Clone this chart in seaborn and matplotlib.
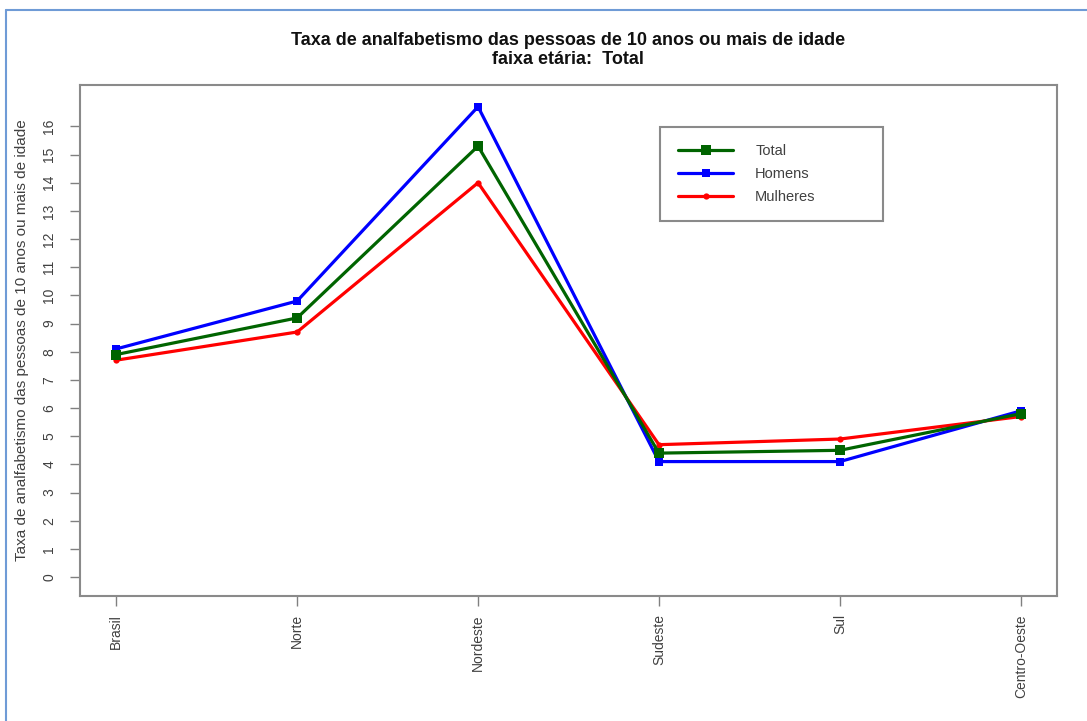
import matplotlib
matplotlib.use("Agg")
import matplotlib.pyplot as plt
from matplotlib.lines import Line2D
import seaborn as sns
import pandas as pd

regioes = ["Brasil", "Norte", "Nordeste", "Sudeste", "Sul", "Centro-Oeste"]
total = [7.9, 9.2, 15.3, 4.4, 4.5, 5.8]
homens = [8.1, 9.8, 16.7, 4.1, 4.1, 5.9]
mulheres = [7.7, 8.7, 14.0, 4.7, 4.9, 5.7]
yticks = list(range(0, 17))

titulo = "Taxa de analfabetismo das pessoas de 10 anos ou mais de idade\nfaixa etária:  Total"
ylabel = "Taxa de analfabetismo das pessoas de 10 anos ou mais de idade"

sns.set_theme(style="white")
plt.rcParams['font.family'] = ['Liberation Sans', 'DejaVu Sans']

df = pd.DataFrame({
    "regiao": regioes * 3,
    "pos": list(range(len(regioes))) * 3,
    "valor": total + homens + mulheres,
    "serie": ["Total"] * 6 + ["Homens"] * 6 + ["Mulheres"] * 6,
})

fig = plt.figure(figsize=(10.87, 7.21), dpi=100)
ax = fig.add_axes([0.0736, 0.1734, 0.8988, 0.7087])

cores = {"Total": "#006400", "Homens": "#0000FF", "Mulheres": "#FF0000"}
marcadores = {"Total": ("s", 7.5), "Homens": ("s", 5.5), "Mulheres": ("o", 4.5)}
for s in ["Homens", "Mulheres", "Total"]:
    sub = df[df["serie"] == s]
    m, ms = marcadores[s]
    sns.lineplot(data=sub, x="pos", y="valor", ax=ax, color=cores[s], lw=2.3,
                 marker=m, markersize=ms, markeredgewidth=0, legend=False)

ax.set_xlim(-0.2, 5.2)
ax.set_ylim(-0.672, 17.47)
ax.set_xticks(range(len(regioes)))
ax.set_xticklabels(regioes, rotation=90, va="top", ha="center")
ax.set_yticks(yticks)
ax.set_yticklabels([str(v) for v in yticks], rotation=90, va="center")
ax.set_xlabel("")
ax.set_ylabel(ylabel, fontsize=11, color="#404040", labelpad=10)
ax.tick_params(axis="both", which="both", direction="out", length=7, width=1,
               color="#808080", labelsize=10, labelcolor="#404040",
               bottom=True, left=True)
ax.tick_params(axis="y", pad=10)
ax.tick_params(axis="x", pad=6)
for sp in ax.spines.values():
    sp.set_color("#8a8a8a")
    sp.set_linewidth(1.5)
ax.grid(False)

fig.text(0.5225, 0.906, titulo, ha="center", va="bottom", fontsize=13,
         fontweight="bold", color="#111111", linespacing=1.15)

handles = []
for s in ["Total", "Homens", "Mulheres"]:
    m, ms = marcadores[s]
    handles.append(Line2D([], [], color=cores[s], lw=2.3, marker=m, markersize=ms,
                          markeredgewidth=0))
leg = ax.legend(handles, ["Total", "Homens", "Mulheres"], loc="upper left",
                bbox_to_anchor=(0.594, 0.743, 0.228, 0.175), mode="expand",
                fancybox=False, framealpha=1,
                edgecolor="#8a8a8a", handlelength=3.8, handletextpad=1.5,
                borderpad=1.2, labelspacing=0.6, fontsize=10.5,
                borderaxespad=0)
leg.get_frame().set_linewidth(1.5)
for t in leg.get_texts():
    t.set_color("#404040")

# window border lines (screenshot frame)
fig.add_artist(Line2D([0.0055, 0.0055], [0, 0.986], transform=fig.transFigure,
                      color="#6f9bd6", lw=1.5))
fig.add_artist(Line2D([0.0055, 1.0], [0.986, 0.986], transform=fig.transFigure,
                      color="#6f9bd6", lw=1.5))

fig.savefig("out.png", dpi=100, facecolor="white")
